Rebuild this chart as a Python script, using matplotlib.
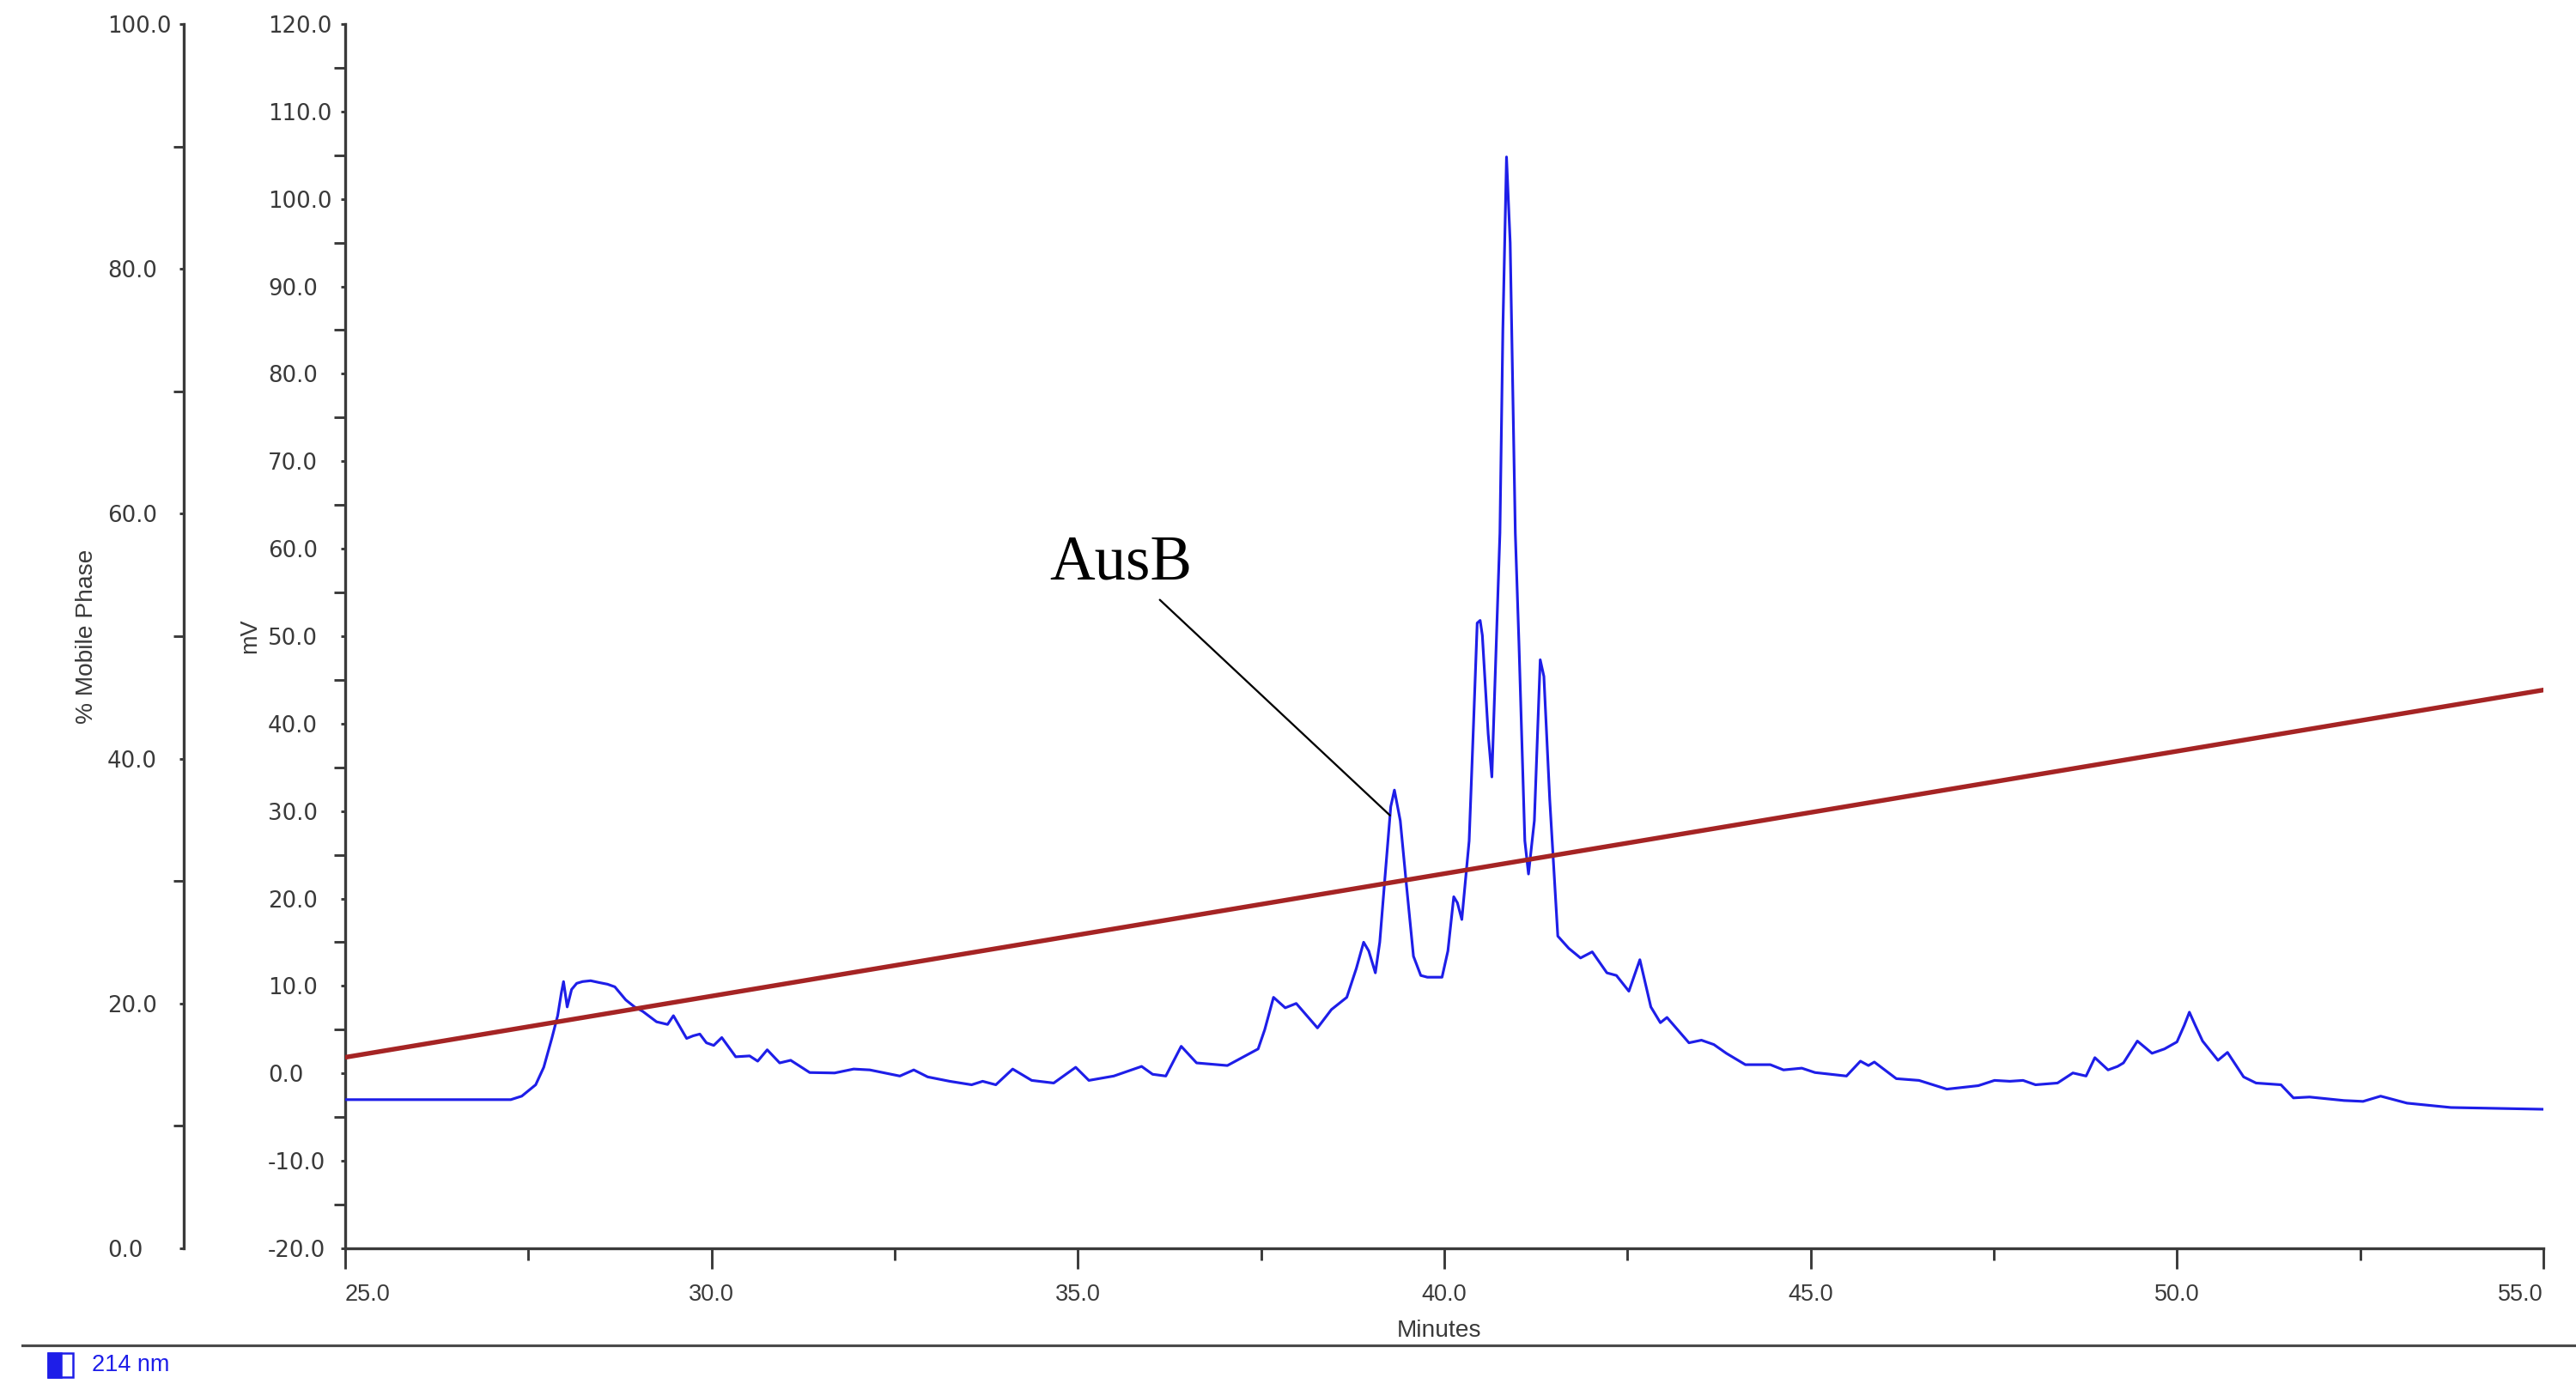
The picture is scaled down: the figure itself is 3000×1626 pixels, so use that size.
import matplotlib
matplotlib.use("Agg")
import matplotlib.pyplot as plt
import numpy as np
from matplotlib.patches import Rectangle
from matplotlib.lines import Line2D

# 214 nm trace (minutes, mV)
time_min = [25.0, 27.26, 27.41, 27.60, 27.71, 27.82, 27.90, 27.95, 27.98, 28.03, 28.09, 28.16, 28.24,
            28.35, 28.46, 28.58, 28.68, 28.83, 28.95, 29.06, 29.25, 29.40, 29.48, 29.66, 29.75, 29.84,
            29.93, 30.03, 30.14, 30.33, 30.52, 30.63, 30.76, 30.93, 31.08, 31.34, 31.68, 31.94, 32.16,
            32.57, 32.76, 32.95, 33.25, 33.55, 33.70, 33.88, 34.11, 34.37, 34.67, 34.97, 35.15, 35.49,
            35.87, 36.02, 36.20, 36.41, 36.62, 37.04, 37.46, 37.55, 37.67, 37.83, 37.98, 38.27, 38.46,
            38.67, 38.80, 38.90, 38.97, 39.06, 39.12, 39.19, 39.27, 39.32, 39.40, 39.48, 39.58, 39.68,
            39.77, 39.97, 40.05, 40.13, 40.18, 40.24, 40.34, 40.40, 40.45, 40.49, 40.52, 40.60, 40.65,
            40.71, 40.76, 40.80, 40.85, 40.90, 40.97, 41.02, 41.10, 41.15, 41.23, 41.31, 41.36, 41.44,
            41.55, 41.70, 41.86, 42.02, 42.22, 42.35, 42.52, 42.67, 42.82, 42.95, 43.04, 43.34, 43.51,
            43.68, 43.85, 44.11, 44.45, 44.63, 44.88, 45.06, 45.49, 45.68, 45.79, 45.87, 46.17, 46.48,
            46.86, 47.29, 47.51, 47.72, 47.90, 48.07, 48.37, 48.58, 48.76, 48.88, 49.06, 49.19, 49.27,
            49.46, 49.66, 49.83, 50.00, 50.10, 50.17, 50.25, 50.35, 50.56, 50.69, 50.91, 51.08, 51.42,
            51.59, 51.81, 52.28, 52.54, 52.78, 53.14, 53.74, 55.0]
signal_mv = [-3.0, -3.0, -2.6, -1.3, 0.7, 4.0, 6.6, 9.2, 10.5, 7.6, 9.6, 10.3, 10.5,
             10.6, 10.4, 10.2, 9.9, 8.4, 7.6, 7.1, 5.9, 5.6, 6.6, 4.0, 4.3, 4.5,
             3.5, 3.2, 4.1, 1.9, 2.0, 1.4, 2.7, 1.2, 1.5, 0.1, 0.05, 0.5, 0.4,
             -0.3, 0.4, -0.4, -0.9, -1.3, -0.9, -1.3, 0.5, -0.8, -1.1, 0.7, -0.8, -0.3,
             0.8, -0.1, -0.3, 3.1, 1.2, 0.9, 2.8, 5.0, 8.7, 7.5, 8.0, 5.2, 7.3,
             8.7, 12.0, 15.0, 14.0, 11.5, 15.0, 22.3, 30.5, 32.4, 28.9, 21.9, 13.4, 11.2,
             11.0, 11.0, 14.0, 20.2, 19.5, 17.6, 26.6, 40.0, 51.5, 51.8, 50.1, 38.8, 33.9,
             49.1, 61.8, 85.0, 104.8, 95.0, 61.8, 49.1, 26.6, 22.8, 28.9, 47.3, 45.4, 31.3,
             15.7, 14.3, 13.2, 13.9, 11.5, 11.2, 9.4, 13.0, 7.6, 5.8, 6.4, 3.5, 3.8,
             3.3, 2.3, 1.0, 1.0, 0.4, 0.6, 0.1, -0.3, 1.4, 0.9, 1.3, -0.6, -0.8,
             -1.8, -1.4, -0.8, -0.9, -0.8, -1.3, -1.1, 0.05, -0.3, 1.8, 0.4, 0.8, 1.2,
             3.7, 2.3, 2.8, 3.6, 5.5, 7.0, 5.5, 3.7, 1.5, 2.4, -0.4, -1.1, -1.3,
             -2.8, -2.7, -3.1, -3.2, -2.6, -3.4, -3.9, -4.1]

# gradient (% mobile phase)
grad_min = [25.0, 55.0]
grad_pct = [15.6, 45.6]

peak_name = "AusB"
peak_xy = (39.26, 29.5)
peak_text_xy = (35.59, 58.3)
legend_text = "214 nm"

x_major = np.arange(25, 55.1, 5)
x_minor = np.arange(27.5, 55, 5)
mv_major = np.arange(-20, 120.1, 10)
mv_minor = np.arange(-15, 120, 10)
pct_major = np.arange(0, 100.1, 20)
pct_minor = np.arange(10, 100, 20)

INK = "#3a3a3a"
BLUE = "#1e1ee8"
RED = "#a52424"
SANS = "Liberation Sans"

fig = plt.figure(figsize=(20, 10.84), dpi=150)
fig.patch.set_facecolor("white")
ax = fig.add_axes([0.134, 0.1058, 0.8533, 0.877])

ax.plot(time_min, signal_mv, color=BLUE, lw=1.5, zorder=3)
ax.set_xlim(25, 55)
ax.set_ylim(-20, 120)

for s in ("top", "right"):
    ax.spines[s].set_visible(False)
for s in ("left", "bottom"):
    ax.spines[s].set_color(INK)
    ax.spines[s].set_linewidth(1.6)

ax.set_xticks(x_major)
ax.set_xticks(x_minor, minor=True)
ax.set_xticklabels([f"{v:.1f}" for v in x_major], fontsize=13, family=SANS, color=INK)
ax.set_yticks(mv_major)
ax.set_yticks(mv_minor, minor=True)
ax.set_yticklabels([f"{v:.1f}" for v in mv_major], fontsize=12.5, family="DejaVu Sans", color=INK)
ax.tick_params(axis="x", which="major", length=11.5, width=1.4, color=INK, pad=8.0)
ax.tick_params(axis="x", which="minor", length=6.5, width=1.4, color=INK)
ax.tick_params(axis="y", which="major", length=2.4, width=1.4, color=INK, pad=40.8)
ax.tick_params(axis="y", which="minor", length=6.2, width=1.4, color=INK)
plt.setp(ax.get_yticklabels(), ha="left")
xl = ax.get_xticklabels()
xl[0].set_ha("left")
xl[-1].set_ha("right")

ax.set_xlabel("Minutes", fontsize=13.5, family=SANS, color=INK)
ax.xaxis.set_label_coords(0.4977, -0.058)
ax.set_ylabel("mV", fontsize=13, family=SANS, color=INK, va="center")
ax.yaxis.set_label_coords(-0.0434, 0.5)

# second (left-most) axis: % mobile phase
ax2 = ax.twinx()
ax2.set_ylim(0, 100)
ax2.plot(grad_min, grad_pct, color=RED, lw=2.6, zorder=4)
for s in ("top", "right", "bottom"):
    ax2.spines[s].set_visible(False)
ax2.spines["left"].set_visible(True)
ax2.spines["left"].set_position(("outward", 90.2))
ax2.spines["left"].set_color(INK)
ax2.spines["left"].set_linewidth(1.6)
ax2.yaxis.set_ticks_position("left")
ax2.yaxis.set_label_position("left")
ax2.set_yticks(pct_major)
ax2.set_yticks(pct_minor, minor=True)
ax2.set_yticklabels([f"{v:.1f}" for v in pct_major], fontsize=12.5, family="DejaVu Sans", color=INK)
ax2.tick_params(axis="y", which="major", length=2.4, width=1.4, color=INK, pad=40.3)
ax2.tick_params(axis="y", which="minor", length=5.8, width=1.4, color=INK)
plt.setp(ax2.get_yticklabels(), ha="left")
ax2.set_ylabel("% Mobile Phase", fontsize=13.5, family=SANS, color=INK, va="center")
ax2.yaxis.set_label_coords(-0.1175, 0.5)

ax2.annotate(peak_name, xy=peak_xy, xycoords=ax.transData, xytext=peak_text_xy,
             textcoords=ax.transData, ha="center", va="center", fontsize=35,
             family="Liberation Serif", color="black", zorder=6,
             arrowprops=dict(arrowstyle="-", color="black", lw=1.1, shrinkA=3, shrinkB=0))

# footer rule and legend entry
fig.add_artist(Line2D([0.0087, 1.0], [0.0363, 0.0363], color="#4a4a4a", lw=1.5))
fig.add_artist(Rectangle((0.0187, 0.0135), 0.0097, 0.0172, facecolor="white",
                         edgecolor=BLUE, lw=1.2))
fig.add_artist(Rectangle((0.0187, 0.0135), 0.0048, 0.0172, facecolor=BLUE,
                         edgecolor=BLUE, lw=1.2))
fig.text(0.0357, 0.0221, legend_text, color=BLUE, fontsize=13, family=SANS, va="center", ha="left")

fig.savefig("out.png", dpi=150, facecolor="white")
